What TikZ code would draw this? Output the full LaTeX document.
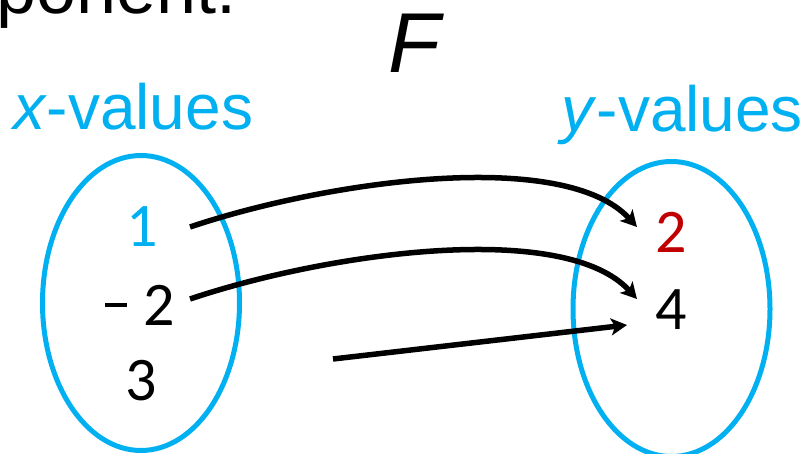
\documentclass[tikz,border=0pt]{standalone}
\usepackage{fontspec}
\setmainfont{Liberation Sans}
\newfontfamily\calibfont{Carlito}
\usetikzlibrary{arrows.meta,shapes.geometric}
\definecolor{cyanb}{HTML}{00B0F0}
\definecolor{redb}{HTML}{C00000}
\begin{document}
\begin{tikzpicture}[x=1pt,y=-1pt,
  lbl/.style={inner sep=0pt, outer sep=0pt, font=\fontsize{64}{64}\selectfont},
  num/.style={inner sep=0pt, outer sep=0pt, anchor=base, font=\calibfont\fontsize{62}{62}\selectfont},
  setell/.style={draw=cyanb, line width=5pt, ellipse, inner sep=0pt, minimum width=197pt, minimum height=295pt},
  mapto/.style={line width=5.5pt, -{Stealth[length=16pt,width=17pt,inset=4pt]}}]
\useasboundingbox (0,0) rectangle (803,454);
\node[inner sep=0pt, outer sep=0pt, anchor=base east, font=\fontsize{72}{72}\selectfont] (title) at (237,14) {ponent.};
\node[inner sep=0pt, anchor=base, font=\itshape\fontsize{85}{85}\selectfont] (F) at (414,73) {F};
\node[lbl, anchor=base west, text=cyanb] (xl) at (13,130) {\textit{x}-values};
\node[lbl, anchor=base east, text=cyanb] (yl) at (803,132) {\textit{y}-values};
\node[setell] (X) at (141,303) {};
\node[setell] (Y) at (671.5,309) {};
\node[num, text=cyanb] (x1) at (142,247) {1};
\node[num] (x2) at (140,325) {\raisebox{18pt}{\rule{22pt}{4pt}}\kern16pt2};
\node[num] (x3) at (141.5,400) {3};
\node[num, text=redb] (y1) at (671.5,253) {2};
\node[num] (y2) at (671.5,330) {4};
\coordinate (a1s) at (190,227);
\coordinate (a1e) at (637,227);
\coordinate (a2s) at (190,299);
\coordinate (a2e) at (637,299);
\coordinate (a3s) at (333,359);
\coordinate (a3e) at (627,325);
\draw[mapto] (a1s) .. controls (330,180) and (565,148) .. (a1e);
\draw[mapto] (a2s) .. controls (330,252) and (565,220) .. (a2e);
\draw[mapto] (a3s) -- (a3e);
\end{tikzpicture}
\end{document}
